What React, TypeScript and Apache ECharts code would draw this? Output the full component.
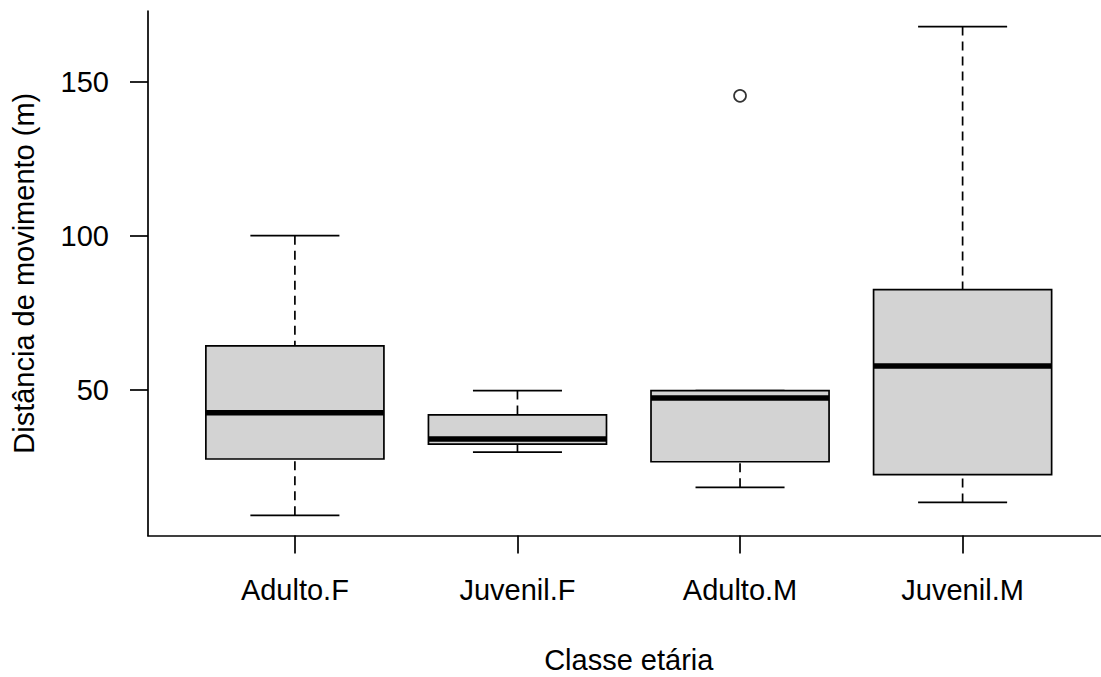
import React, { useEffect, useRef } from "react";
import * as echarts from "echarts";

const categories = ["Adulto.F", "Juvenil.F", "Adulto.M", "Juvenil.M"];
const lowerWhisker = [9.2, 29.7, 18.3, 13.4];
const q1 = [27.5, 32.3, 26.6, 22.4];
const median = [42.5, 34.0, 47.3, 57.7];
const q3 = [64.2, 41.8, 49.7, 82.5];
const upperWhisker = [100, 49.7, 49.7, 167.9];
const outliers = [[3, 145.4]];
const yTicks = [50, 100, 150];
const xTitle = "Classe etária";
const yTitle = "Distância de movimento (m)";

const FONT = "'Liberation Sans', Arial, sans-serif";
const LW = 1.7;

export default function App() {
  const ref = useRef<HTMLDivElement>(null);
  useEffect(() => {
    if (!ref.current) return;
    const chart = echarts.init(ref.current, null, { renderer: "svg" });
    const boxData = categories.map((_, i) => [
      i + 1,
      lowerWhisker[i],
      q1[i],
      median[i],
      q3[i],
      upperWhisker[i],
    ]);
    chart.setOption({
      animation: false,
      backgroundColor: "#ffffff",
      grid: {
        left: 148,
        right: 0.5,
        top: 11,
        bottom: 141.5,
        containLabel: false,
        outerBoundsMode: "none",
      },
      xAxis: {
        type: "value",
        min: 0.34,
        max: 4.66,
        name: xTitle,
        nameLocation: "middle",
        nameGap: 109.5,
        nameTextStyle: { fontSize: 29, color: "#000", fontFamily: FONT },
        axisLine: { show: true, onZero: false, lineStyle: { color: "#000", width: LW } },
        axisTick: {
          show: true,
          customValues: [1, 2, 3, 4],
          length: 18,
          lineStyle: { color: "#000", width: LW },
        },
        axisLabel: {
          customValues: [1, 2, 3, 4],
          formatter: (v: number) => categories[Math.round(v) - 1] ?? "",
          fontSize: 29,
          color: "#000",
          fontFamily: FONT,
          margin: 40,
        },
        splitLine: { show: false },
      },
      yAxis: {
        type: "value",
        min: 2.66,
        max: 172.95,
        name: yTitle,
        nameLocation: "middle",
        nameGap: 110,
        nameRotate: 90,
        nameTextStyle: { fontSize: 29, color: "#000", fontFamily: FONT },
        axisLine: { show: true, onZero: false, lineStyle: { color: "#000", width: LW } },
        axisTick: {
          show: true,
          customValues: yTicks,
          length: 18,
          lineStyle: { color: "#000", width: LW },
        },
        axisLabel: {
          customValues: yTicks,
          fontSize: 29,
          color: "#000",
          fontFamily: FONT,
          margin: 39,
        },
        splitLine: { show: false },
      },
      series: [
        {
          type: "custom",
          data: boxData,
          encode: { x: 0, y: [1, 2, 3, 4, 5] },
          clip: false,
          renderItem: (params: any, api: any) => {
            const x = api.value(0);
            const lo = api.coord([x, api.value(1)]);
            const b1 = api.coord([x, api.value(2)]);
            const md = api.coord([x, api.value(3)]);
            const b3 = api.coord([x, api.value(4)]);
            const hi = api.coord([x, api.value(5)]);
            const bw = api.size([0.8, 0])[0];
            const cw = api.size([0.4, 0])[0];
            const cx = lo[0];
            const stroke = { stroke: "#000", lineWidth: LW, fill: null };
            return {
              type: "group",
              children: [
                {
                  type: "line",
                  shape: { x1: cx, y1: lo[1], x2: cx, y2: b1[1] },
                  style: { ...stroke, lineDash: [9, 6] },
                },
                {
                  type: "line",
                  shape: { x1: cx, y1: hi[1], x2: cx, y2: b3[1] },
                  style: { ...stroke, lineDash: [9, 6] },
                },
                {
                  type: "line",
                  shape: { x1: cx - cw / 2, y1: lo[1], x2: cx + cw / 2, y2: lo[1] },
                  style: stroke,
                },
                {
                  type: "line",
                  shape: { x1: cx - cw / 2, y1: hi[1], x2: cx + cw / 2, y2: hi[1] },
                  style: stroke,
                },
                {
                  type: "rect",
                  shape: { x: cx - bw / 2, y: b3[1], width: bw, height: b1[1] - b3[1] },
                  style: { fill: "#D3D3D3", stroke: "#000", lineWidth: LW },
                },
                {
                  type: "line",
                  shape: { x1: cx - bw / 2, y1: md[1], x2: cx + bw / 2, y2: md[1] },
                  style: { stroke: "#000", lineWidth: 5.5, lineCap: "butt" },
                },
              ],
            };
          },
        },
        {
          type: "scatter",
          data: outliers,
          symbol: "circle",
          symbolSize: 12,
          itemStyle: { color: "rgba(0,0,0,0)", borderColor: "#000", borderWidth: LW },
        },
      ],
    });
    return () => chart.dispose();
  }, []);
  return (
    <div
      ref={ref}
      style={{ position: "fixed", left: 0, top: 0, width: 1110, height: 677, background: "#fff" }}
    />
  );
}
